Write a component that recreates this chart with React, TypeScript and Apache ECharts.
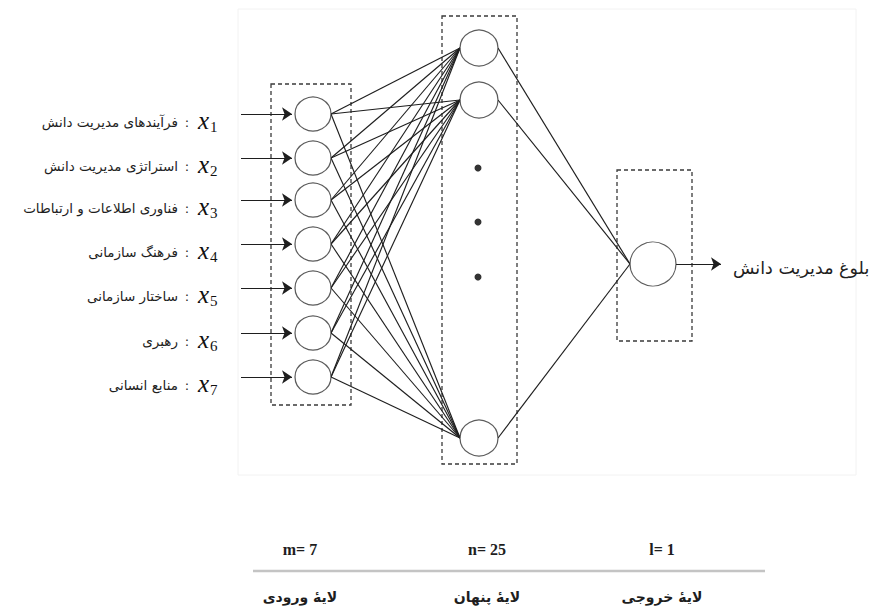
import React, { useEffect, useRef } from "react";
import * as echarts from "echarts";

// ---- data ----
const inputLabels = [
  "فرآیندهای مدیریت دانش",
  "استراتژی مدیریت دانش",
  "فناوری اطلاعات و ارتباطات",
  "فرهنگ سازمانی",
  "ساختار سازمانی",
  "رهبری",
  "منابع انسانی",
];
const inputIndex = ["1", "2", "3", "4", "5", "6", "7"];
const inputY = [114, 158, 200, 244, 288, 333, 377];
const hiddenY = [48, 100, 438];
const hiddenDotsY = [168, 222, 277];
const outputY = [264];
const layerX = [313, 479, 653];
const layerCounts = ["m= 7", "n= 25", "l= 1"];
const layerNames = ["لایهٔ ورودی", "لایهٔ پنهان", "لایهٔ خروجی"];
const bottomLabelX = [300, 487, 662];
const outputLabel = "بلوغ مدیریت دانش";

export default function App() {
  const ref = useRef<HTMLDivElement>(null);
  useEffect(() => {
    if (!ref.current) return;
    const chart = echarts.init(ref.current, undefined, { renderer: "svg" });

    const rIn = 18, rHid = 19, rOut = 23;
    const ink = "#1e1e1e";

    const inHidEdges: any[] = [];
    inputY.forEach((yi) => {
      hiddenY.forEach((hj) => {
        inHidEdges.push({ coords: [[layerX[0] + rIn, yi], [layerX[1] - rHid, hj]] });
      });
    });
    const hidOutEdges = hiddenY.map((hj) => ({
      coords: [[layerX[1] + rHid, hj], [layerX[2] - rOut, outputY[0]]],
    }));
    const inArrows = inputY.map((yi) => ({ coords: [[241, yi], [layerX[0] - rIn - 3, yi]] }));
    const outArrows = outputY.map((y) => ({ coords: [[layerX[2] + rOut, y], [721, y]] }));

    const boxes = [
      [271, 84, 351, 405],
      [442, 16, 517, 464],
      [617, 170, 692, 341],
    ];

    const graphic: any[] = [
      {
        type: "rect",
        shape: { x: 238, y: 9, width: 618, height: 466 },
        style: { fill: "none", stroke: "#f2f2f2", lineWidth: 1 },
        z: -1,
      },
      {
        type: "line",
        shape: { x1: 253, y1: 571, x2: 765, y2: 571 },
        style: { stroke: "#c4c4c4", lineWidth: 2.5 },
      },
    ];
    inputLabels.forEach((t, i) => {
      const ly = inputY[i] + 8;
      graphic.push({
        type: "text",
        x: 178,
        y: ly,
        style: { text: t, align: "right", verticalAlign: "middle", font: "13.5px 'DejaVu Sans'", fill: ink },
      });
      graphic.push({
        type: "text",
        x: 187,
        y: ly,
        style: { text: ":", align: "center", verticalAlign: "middle", font: "13px 'DejaVu Sans'", fill: ink },
      });
      graphic.push({
        type: "text",
        x: 198,
        y: ly - 2,
        style: { text: "x", align: "left", verticalAlign: "middle", font: "italic 25px 'Liberation Serif'", fill: "#111" },
      });
      graphic.push({
        type: "text",
        x: 210,
        y: ly + 5,
        style: { text: inputIndex[i], align: "left", verticalAlign: "middle", font: "15px 'Liberation Serif'", fill: "#111" },
      });
    });
    graphic.push({
      type: "text",
      x: 733,
      y: outputY[0] + 4,
      style: { text: outputLabel, align: "left", verticalAlign: "middle", font: "17.5px 'DejaVu Sans'", fill: ink },
    });
    layerCounts.forEach((t, i) => {
      graphic.push({
        type: "text",
        x: bottomLabelX[i],
        y: 549,
        style: { text: t, align: "center", verticalAlign: "middle", font: "bold 16px 'Liberation Serif'", fill: ink },
      });
      graphic.push({
        type: "text",
        x: bottomLabelX[i],
        y: 597,
        style: { text: layerNames[i], align: "center", verticalAlign: "middle", font: "bold 14px 'DejaVu Sans'", fill: ink },
      });
    });

    chart.setOption({
      animation: false,
      backgroundColor: "#ffffff",
      grid: { left: 0, right: 0, top: 0, bottom: 0 },
      xAxis: { type: "value", min: 0, max: 883, show: false },
      yAxis: { type: "value", min: 0, max: 608, inverse: true, show: false },
      graphic,
      series: [
        {
          type: "custom",
          coordinateSystem: "cartesian2d",
          data: boxes,
          z: 1,
          renderItem: (params: any, api: any) => {
            const p1 = api.coord([api.value(0), api.value(1)]);
            const p2 = api.coord([api.value(2), api.value(3)]);
            return {
              type: "rect",
              shape: { x: p1[0], y: p1[1], width: p2[0] - p1[0], height: p2[1] - p1[1] },
              style: { fill: "none", stroke: "#3a3a3a", lineWidth: 1.3, lineDash: [4, 3] },
            };
          },
        },
        {
          type: "lines",
          coordinateSystem: "cartesian2d",
          data: inHidEdges.concat(hidOutEdges),
          lineStyle: { color: ink, width: 1.15, opacity: 1 },
          symbol: ["none", "none"],
          z: 2,
        },
        {
          type: "lines",
          coordinateSystem: "cartesian2d",
          data: inArrows.concat(outArrows),
          lineStyle: { color: ink, width: 1.1, opacity: 1 },
          symbol: ["none", "arrow"],
          symbolSize: 10,
          z: 2,
        },
        {
          type: "scatter",
          data: inputY.map((y) => [layerX[0], y]),
          symbol: "circle",
          symbolSize: [rIn * 2, 34],
          itemStyle: { color: "#fff", borderColor: "#333", borderWidth: 1.2 },
          z: 3,
        },
        {
          type: "scatter",
          data: hiddenY.map((y) => [layerX[1], y]),
          symbol: "circle",
          symbolSize: [rHid * 2, 36],
          itemStyle: { color: "#fff", borderColor: "#333", borderWidth: 1.2 },
          z: 3,
        },
        {
          type: "scatter",
          data: hiddenDotsY.map((y) => [layerX[1] - 1, y]),
          symbol: "circle",
          symbolSize: 7,
          itemStyle: { color: "#000" },
          z: 3,
        },
        {
          type: "scatter",
          data: outputY.map((y) => [layerX[2], y]),
          symbol: "circle",
          symbolSize: [rOut * 2, 44],
          itemStyle: { color: "#fff", borderColor: "#333", borderWidth: 1.2 },
          z: 3,
        },
      ],
    });
    return () => chart.dispose();
  }, []);
  return (
    <div
      ref={ref}
      style={{ position: "fixed", left: 0, top: 0, width: 883, height: 608 }}
    />
  );
}
